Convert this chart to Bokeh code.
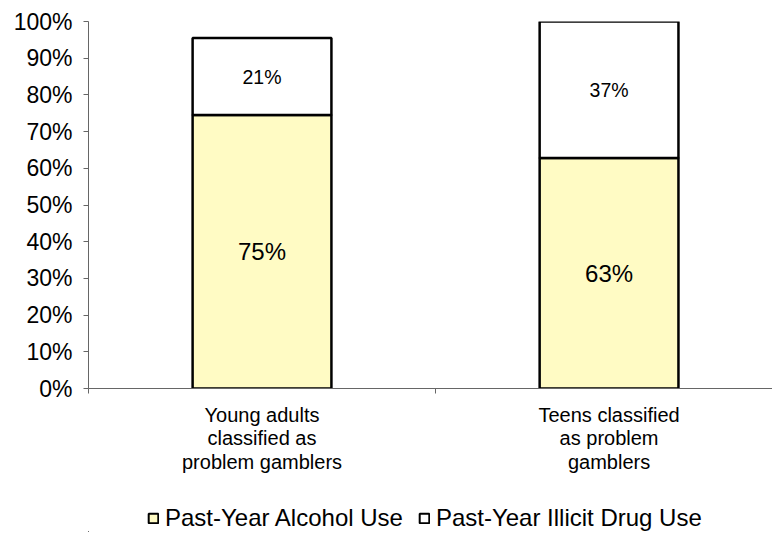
from bokeh.plotting import figure
from bokeh.layouts import column
from bokeh.models import (Range1d, LinearAxis, FixedTicker, PrintfTickFormatter,
                          Legend, LegendItem, ColumnDataSource)
from bokeh.core.properties import value
from bokeh.embed import file_html
from bokeh.resources import INLINE

# ---- data ----
categories = ["Young adults\nclassified as\nproblem gamblers",
              "Teens classified\nas problem\ngamblers"]
cat_pos = [0.5, 1.5]
alcohol = [74.5, 62.8]
drug = [21.0, 37.2]
alcohol_labels = ["75%", "63%"]
drug_labels = ["21%", "37%"]
series_names = ["Past-Year Alcohol Use", "Past-Year Illicit Drug Use"]
y_ticks = [0, 10, 20, 30, 40, 50, 60, 70, 80, 90, 100]

FONT = "Liberation Sans"
YELLOW = "#FFFBC4"
SERIES_COLORS = [YELLOW, "white"]

src = ColumnDataSource(dict(
    x=cat_pos, alcohol=alcohol, drug=drug,
    a_mid=[a / 2 for a in alcohol],
    d_mid=[a + d / 2 for a, d in zip(alcohol, drug)],
    a_lab=alcohol_labels, d_lab=drug_labels,
))

p = figure(width=772, height=488, output_backend="svg", toolbar_location=None,
           x_axis_type=None, y_axis_type=None,
           x_range=Range1d(0, 1.971), y_range=Range1d(0, 100),
           min_border_left=88, min_border_right=0, min_border_top=21,
           min_border_bottom=100)
p.outline_line_color = None
p.xgrid.visible = False
p.ygrid.visible = False
p.background_fill_color = "white"
p.border_fill_color = "white"

rs = p.vbar_stack(["alcohol", "drug"], x="x", width=0.4, source=src,
                  fill_color=SERIES_COLORS, line_color="black", line_width=2.5)

p.text(x="x", y="a_mid", text="a_lab", source=src, text_font=value(FONT),
       text_font_size="24px", text_align="center", text_baseline="middle",
       text_color="black")
p.text(x="x", y="d_mid", text="d_lab", source=src, text_font=value(FONT),
       text_font_size="19.5px", text_align="center", text_baseline="middle",
       text_color="black")

AX = "#666666"
# y axis
yax = LinearAxis(ticker=FixedTicker(ticks=y_ticks),
                 formatter=PrintfTickFormatter(format="%d%%"))
yax.axis_line_color = AX
yax.major_tick_line_color = AX
yax.major_tick_in = 0
yax.major_tick_out = 5
yax.minor_tick_line_color = None
yax.major_label_text_font = FONT
yax.major_label_text_font_size = "23px"
yax.major_label_text_color = "black"
yax.major_label_standoff = 11
p.add_layout(yax, "left")

# x axis: category boundary ticks only
xax = LinearAxis(ticker=FixedTicker(ticks=[0, 1, 2]),
                 major_label_overrides={0: "", 1: "", 2: ""})
xax.axis_line_color = AX
xax.major_tick_line_color = AX
xax.major_tick_in = 0
xax.major_tick_out = 5
xax.minor_tick_line_color = None
xax.major_label_text_font_size = "1px"
xax.major_label_standoff = 0
p.add_layout(xax, "below")

# x axis: category labels
xlab = LinearAxis(ticker=FixedTicker(ticks=cat_pos),
                  major_label_overrides={cat_pos[i]: categories[i] for i in range(2)})
xlab.axis_line_color = None
xlab.major_tick_line_color = None
xlab.minor_tick_line_color = None
xlab.major_label_text_font = FONT
xlab.major_label_text_font_size = "20px"
xlab.major_label_text_color = "black"
xlab.major_label_text_line_height = 1.07
xlab.major_label_standoff = 4
p.add_layout(xlab, "below")

# legend strip (separate figure below the chart; its bars lie far outside its view)
p2 = figure(width=772, height=44, output_backend="svg", toolbar_location=None,
            x_axis_type=None, y_axis_type=None,
            x_range=Range1d(1000, 1001), y_range=Range1d(1000, 1001),
            min_border_left=88, min_border_right=0, min_border_top=0,
            min_border_bottom=0)
p2.outline_line_color = None
p2.xgrid.visible = False
p2.ygrid.visible = False
p2.background_fill_color = "white"
p2.border_fill_color = "white"
proxies = p2.vbar_stack(["alcohol", "drug"], x="x", width=0.4, source=src,
                        fill_color=SERIES_COLORS, line_color="black", line_width=2)

legend = Legend(items=[LegendItem(label=series_names[i], renderers=[proxies[i]])
                       for i in range(2)],
                orientation="horizontal", location=(59, 0),
                label_text_font=FONT, label_text_font_size="24px",
                label_text_color="black",
                glyph_width=12, glyph_height=12, label_standoff=6,
                spacing=15, padding=0, margin=0,
                border_line_color=None, background_fill_alpha=0)
p2.add_layout(legend, "center")

layout = column(p, p2, spacing=0)
open("out.html", "w").write(file_html(layout, INLINE))
